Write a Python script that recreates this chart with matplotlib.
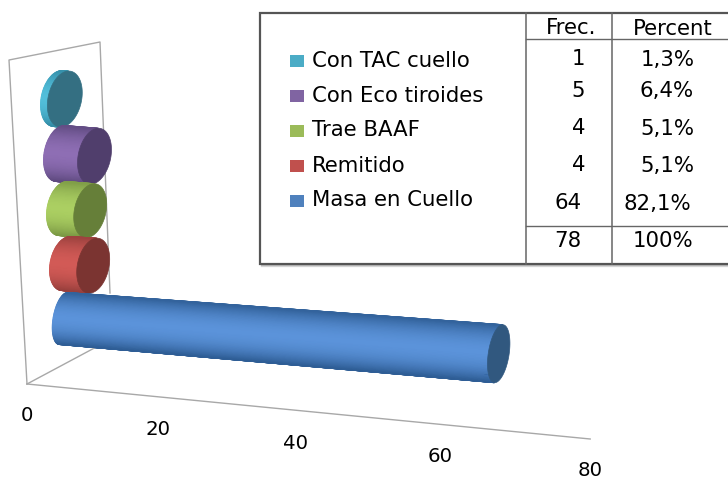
import matplotlib
matplotlib.use("Agg")
import matplotlib.pyplot as plt
import numpy as np
from matplotlib.colors import LinearSegmentedColormap
from matplotlib.patches import Polygon, Rectangle

# bottom to top, same order as the bars in the chart
categories = ['Masa en Cuello', 'Remitido', 'Trae BAAF', 'Con Eco tiroides', 'Con TAC cuello']
frec = [64, 4, 4, 5, 1]
percent = ['82,1%', '5,1%', '5,1%', '6,4%', '1,3%']
total_frec = 78
total_percent = '100%'
axis_ticks = [0, 20, 40, 60, 80]

# legend, light side, dark side, end cap
legend_colors = ['#4F81BD', '#C0504D', '#9BBB59', '#8064A2', '#4BACC6']
light_colors = ['#5B93DA', '#D25A56', '#ABCF62', '#8E6EB4', '#52BEDA']
dark_colors = ['#2F5E96', '#99403D', '#7C9A45', '#5F4A80', '#338CA6']
cap_colors = ['#31587F', '#7B3431', '#667F39', '#503E6C', '#346F82']

# sizes of the ellipses per bar
half_w = [10.5, 16, 16, 16.5, 17]
base_h = [26, 27, 27, 28, 28]
top_h = [29, 27.5, 27, 28, 28]
font = 'DejaVu Sans'
fs = 15.3


# chart value and row -> picture position, the chart is a fake 3d one
def bar_point(value, row):
    return 53 - 3 * row + half_w[row] + 6.8 * value, 318.5 - 55 * row + 0.55 * value


def axis_point(value):
    return 27 + 7.04 * value, 384 + 0.6875 * value


def ellipse(cx, cy, w, h, t):
    return np.column_stack([cx + w * np.cos(t) - 4 * np.sin(t), cy + h * np.sin(t)])


fig = plt.figure(figsize=(7.28, 4.79), dpi=100)
ax = fig.add_axes([0, 0, 1, 1])
ax.set_xlim(0, 728)
ax.set_ylim(479, 0)
ax.autoscale(False)
ax.axis('off')

# walls of the chart
wall = '#a8a8a8'
ax.plot([27, 9, 100, 110], [384, 60, 42, 293], color=wall, lw=1)
ax.plot([27, 100], [384, 345], color=wall, lw=1)
x0, y0 = axis_point(0)
x1, y1 = axis_point(axis_ticks[-1])
ax.plot([x0, x1], [y0, y1], color=wall, lw=1)

for v in axis_ticks:
    ax.text(27 + 6.4 * v + 0.008 * v * v, 415.5 + 0.69 * v, str(v), fontsize=14.2, family=font,
            ha='center', va='center', color='black', clip_on=False)

# cylinders, top one first so the lower ones cover it
for row in range(len(frec) - 1, -1, -1):
    bx, by = bar_point(0, row)
    tx, ty = bar_point(frec[row], row)
    w = half_w[row]
    t = np.linspace(np.pi / 2, 3 * np.pi / 2, 60)
    base = ellipse(bx, by, w, base_h[row], t)
    top = ellipse(tx, ty, w, top_h[row], t)
    X = np.column_stack([base[:, 0], top[:, 0]])
    Y = np.column_stack([base[:, 1], top[:, 1]])
    shade = np.abs(np.sin(t) + 0.05) ** 2
    C = np.column_stack([shade, shade])
    cmap = LinearSegmentedColormap.from_list('side', [light_colors[row], dark_colors[row]])
    ax.pcolormesh(X, Y, C, cmap=cmap, vmin=0, vmax=1, shading='gouraud', zorder=10 - row)
    cap = ellipse(tx, ty, w, top_h[row], np.linspace(0, 2 * np.pi, 80))
    ax.add_patch(Polygon(cap, closed=True, fc=cap_colors[row], ec=cap_colors[row], lw=0.5, zorder=10.5 - row))

# box with the table, runs off the right edge of the picture
for i, a in enumerate([0.25, 0.12]):
    ax.plot([261, 261 + 470], [265 + i, 265 + i], color='black', alpha=a, lw=1, zorder=19)
ax.add_patch(Rectangle((260, 13), 480, 251, fc='white', ec='#555555', lw=1.6, zorder=20))
line = '#666666'
for x in [526, 612]:
    ax.plot([x, x], [13, 264], color=line, lw=1.1, zorder=21)
for y in [39, 226]:
    ax.plot([526, 728], [y, y], color=line, lw=1, zorder=21)

# legend inside the box
legend_y = [201, 166, 131, 96, 61]
for i in range(len(categories)):
    ax.add_patch(Rectangle((290, legend_y[i] - 6), 14, 12, fc=legend_colors[i], ec='none', zorder=22))
    ax.text(312, legend_y[i] - 0.5, categories[i], fontsize=fs, family=font, ha='left', va='center',
            color='black', zorder=22)

# columns
frec_x = [568, 579, 579, 578, 578]
frec_y = [203, 165, 128, 91, 59]
percent_x = [657, 667, 667, 667, 668]
percent_y = [204, 166, 129, 91, 60]
for i in range(len(frec)):
    ax.text(frec_x[i], frec_y[i], str(frec[i]), fontsize=fs, family=font, ha='center', va='center', zorder=22)
    ax.text(percent_x[i], percent_y[i], percent[i], fontsize=fs, family=font, ha='center', va='center', zorder=22)
ax.text(571, 28, 'Frec.', fontsize=fs, family=font, ha='center', va='center', zorder=22)
ax.text(673, 29, 'Percent', fontsize=fs, family=font, ha='center', va='center', zorder=22)
ax.text(568, 241, str(total_frec), fontsize=fs, family=font, ha='center', va='center', zorder=22)
ax.text(663, 241, total_percent, fontsize=fs, family=font, ha='center', va='center', zorder=22)

fig.savefig('out.png', dpi=100)
